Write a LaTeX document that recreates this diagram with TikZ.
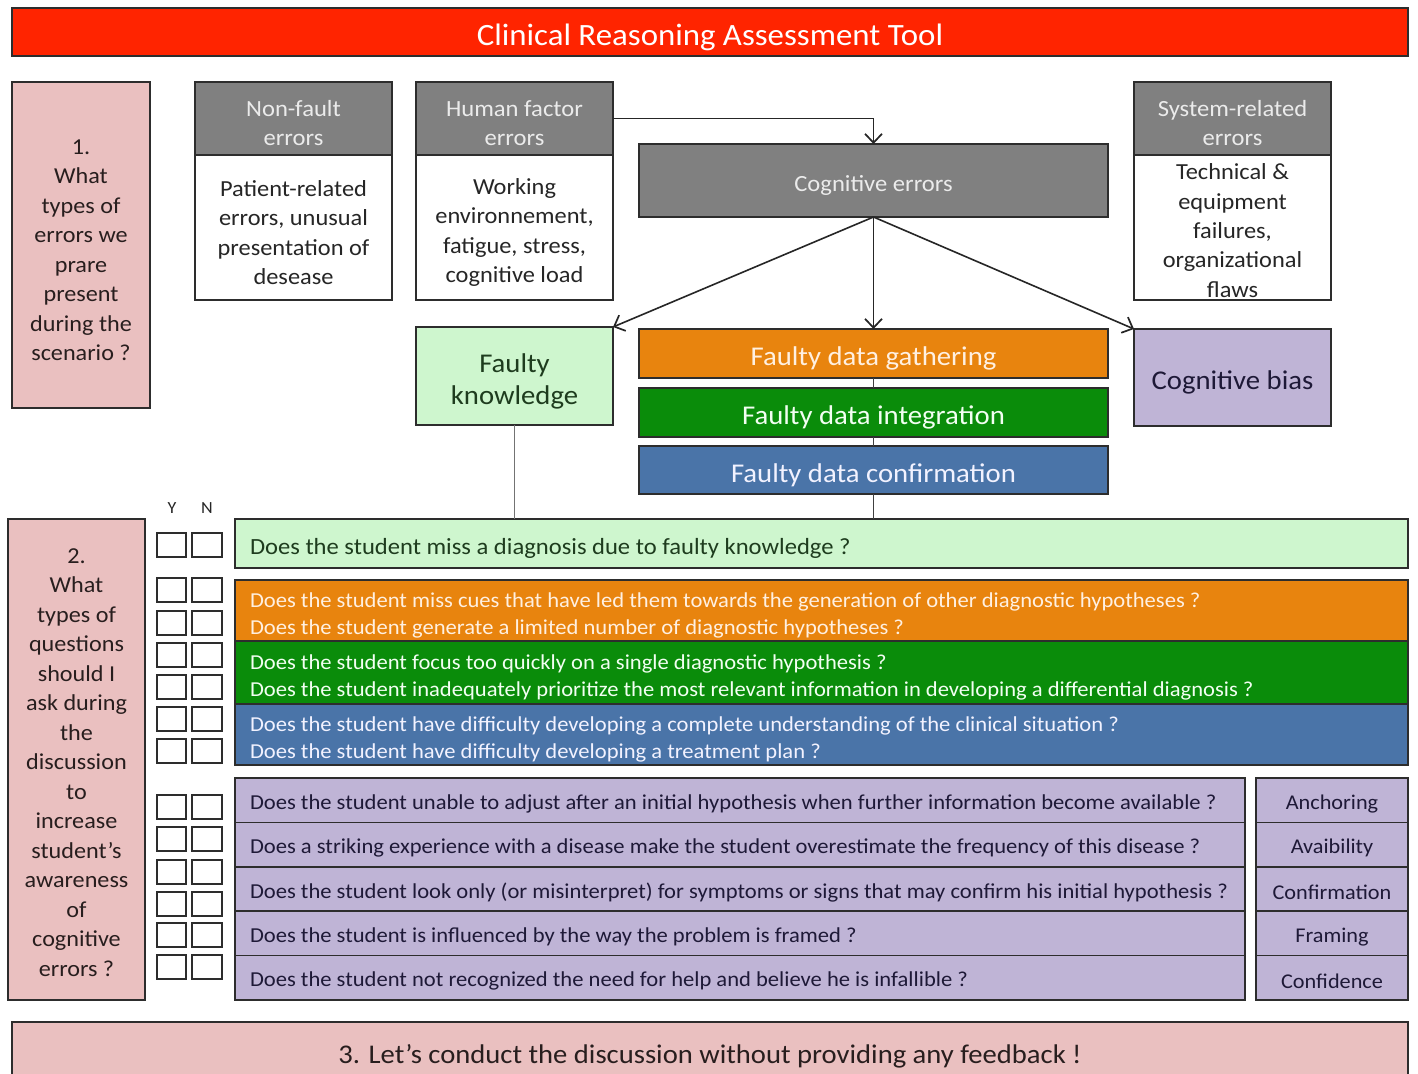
\documentclass[tikz,border=0pt]{standalone}
\usepackage{fontspec}
\setmainfont{Carlito}[FakeStretch=1.06]
\usetikzlibrary{arrows.meta}
\definecolor{titlered}{RGB}{255,36,0}
\definecolor{pinkc}{RGB}{234,192,192}
\definecolor{greyh}{RGB}{128,128,128}
\definecolor{lgreen}{RGB}{206,246,206}
\definecolor{orangec}{RGB}{232,132,14}
\definecolor{greenc}{RGB}{10,140,10}
\definecolor{bluec}{RGB}{74,116,168}
\definecolor{lavc}{RGB}{191,180,214}
\definecolor{darktext}{RGB}{40,30,30}
\definecolor{dgtext}{RGB}{30,60,30}
\definecolor{lavtext}{RGB}{30,25,55}
\definecolor{creamtext}{RGB}{255,240,225}
\definecolor{edgec}{RGB}{45,45,45}
\def\tdrop{5pt}
% box with centred text: #1 style, #2 name, #3 x,y, #4 width, #5 height, #6 text
\newcommand\tbox[6]{%
  \node[#1, minimum width=#4pt, minimum height=#5pt] (#2) at (#3) {};
  \node[#1, draw=none, fill=none, minimum width=0pt, minimum height=0pt, anchor=center] (#2-t) at ([yshift=-\tdrop]#2.center) {#6};
}
% box with left text
\newcommand\qtbox[6]{%
  \node[#1, minimum width=#4pt, minimum height=#5pt] (#2) at (#3) {};
  \node[#1, draw=none, fill=none, minimum width=0pt, minimum height=0pt, anchor=west, align=left] (#2-t) at ([xshift=15pt,yshift=-\tdrop]#2.west) {#6};
}
\tikzset{
  base/.style={draw=edgec, line width=1.6pt, inner sep=0pt, outer sep=0pt, anchor=north west, align=center},
  pinkbox/.style={base, fill=pinkc, text=darktext, font=\fontsize{22.8}{29.5}\selectfont},
  headbox/.style={base, fill=greyh, text=white!92!black, font=\fontsize{23.2}{29}\selectfont},
  bodybox/.style={base, fill=white, text=black!85, font=\fontsize{23}{29.3}\selectfont},
  bigbox/.style={base, font=\fontsize{27.1}{32}\selectfont},
  qbox/.style={base, font=\fontsize{21.3}{27}\selectfont},
  biasbox/.style={base, fill=lavc, text=lavtext, font=\fontsize{21}{24}\selectfont},
  cbox/.style={draw=edgec, line width=1.5pt, fill=white, inner sep=0pt, outer sep=0pt, anchor=north west, minimum height=24pt},
  arr/.style={draw=black!85, line width=1.6pt, -{Straight Barb[length=9pt,width=17pt,line width=1.7pt]}},
  gline/.style={draw=black!55, line width=1.8pt},
  yn/.style={font=\fontsize{17}{20}\selectfont, text=black!85, inner sep=0pt}
}
\begin{document}
\begin{tikzpicture}[x=1pt,y=-1pt]
\clip (0,0) rectangle (1418,1073);
\fill[white] (0,0) rectangle (1418,1073);
% title
\tbox{base, fill=titlered, text=white, font=\fontsize{31}{34}\selectfont}{title}{12,8}{1396}{48}{Clinical Reasoning Assessment Tool}
% section 1
\tbox{pinkbox}{s1}{12,82}{138}{326}{1.\\What\\types of\\errors we\\prare\\present\\during the\\scenario ?}
\tbox{headbox}{nfh}{195,82}{197}{73}{Non-fault\\errors}
\tbox{bodybox}{nfb}{195,155}{197}{145}{Patient-related\\errors, unusual\\presentation of\\desease}
\tbox{headbox}{hfh}{416,82}{197}{73}{Human factor\\errors}
\tbox{bodybox}{hfb}{416,155}{197}{145}{Working\\environnement,\\fatigue, stress,\\cognitive load}
\tbox{headbox}{srh}{1134,82}{197}{73}{System-related\\errors}
{\def\tdrop{3pt}%
\tbox{bodybox}{srb}{1134,155}{197}{145}{Technical \&\\equipment\\failures,\\organizational\\flaws}}
\tbox{headbox}{cog}{639,144}{469}{73}{Cognitive errors}
% second level
\tbox{bigbox, fill=lgreen, text=dgtext}{fk}{416,327}{197}{98}{Faulty\\knowledge}
\tbox{bigbox, fill=orangec, text=creamtext}{fdg}{639,329}{469}{49}{Faulty data gathering}
\tbox{bigbox, fill=greenc, text=white!95!green}{fdi}{639,388}{469}{49}{Faulty data integration}
\tbox{bigbox, fill=bluec, text=white!95!blue}{fdc}{639,446}{469}{48}{Faulty data confirmation}
\tbox{bigbox, fill=lavc, text=lavtext}{cb}{1134,329}{197}{97}{Cognitive bias}
% arrows
\draw[arr] (hfh.east) -| (cog.north);
\draw[arr] (cog.south) -- (fk.north east);
\draw[arr] (cog.south) -- (fdg.north);
\draw[arr] (cog.south) -- (cb.north west);
% section 2
{\def\tdrop{3pt}%
\tbox{pinkbox}{s2}{8,519}{137}{481}{2.\\What\\types of\\questions\\should I\\ask during\\the\\discussion\\to\\increase\\student’s\\awareness\\of\\cognitive\\errors ?}}
\node[yn] (ylab) at (172,508) {Y};
\node[yn] (nlab) at (207,508) {N};
\qtbox{qbox, fill=lgreen, text=dgtext, font=\fontsize{23.2}{27}\selectfont}{q1}{235,519}{1173}{49}{Does the student miss a diagnosis due to faulty knowledge ?}
\qtbox{qbox, fill=orangec, text=creamtext}{q2}{235,580}{1173}{61}{Does the student miss cues that have led them towards the generation of other diagnostic hypotheses ?\\Does the student generate a limited number of diagnostic hypotheses ?}
\qtbox{qbox, fill=greenc, text=white!95!green}{q3}{235,641}{1173}{63}{Does the student focus too quickly on a single diagnostic hypothesis ?\\Does the student inadequately prioritize the most relevant information in developing a differential diagnosis ?}
\qtbox{qbox, fill=bluec, text=white!95!blue}{q4}{235,704}{1173}{61}{Does the student have difficulty developing a complete understanding of the clinical situation ?\\Does the student have difficulty developing a treatment plan ?}
% vertical connectors
\draw[gline] (fk.south) -- (fk.south |- q1.north);
\draw[gline, draw=black!75] (fdg.south) -- (fdi.north);
\draw[gline, draw=black!75] (fdi.south) -- (fdc.north);
\draw[gline, draw=black!75] (fdc.south) -- (fdc.south |- q1.north);
% bias questions
\def\tdrop{3.5pt}
\foreach \i/\t/\b in {0/{Does the student unable to adjust after an initial hypothesis when further information become available ?}/Anchoring,
  1/{Does a striking experience with a disease make the student overestimate the frequency of this disease ?}/Avaibility,
  2/{Does the student look only (or misinterpret) for symptoms or signs that may confirm his initial hypothesis ?}/Confirmation,
  3/{Does the student is influenced by the way the problem is framed ?}/Framing,
  4/{Does the student not recognized the need for help and believe he is infallible ?}/Confidence}{
  \pgfmathsetmacro\yy{778+\i*44.4}
  \qtbox{qbox, fill=lavc, text=lavtext}{bq\i}{235,\yy}{1010}{44.4}{\t}
  \tbox{biasbox}{bl\i}{1256,\yy}{152}{44.4}{\b}
}
% checkboxes
\foreach \yy [count=\k] in {533,578,611,643,675,707,739,795,827,860,892,923,955}{
  \node[cbox, minimum width=29pt] (cy\k) at (157,\yy) {};
  \node[cbox, minimum width=30pt] (cn\k) at (192,\yy) {};
}
% section 3
\def\tdrop{1pt}
\tbox{pinkbox, font=\fontsize{27}{30}\selectfont}{s3}{12,1022}{1396}{66}{3. Let’s conduct the discussion without providing any feedback !}
\end{tikzpicture}
\end{document}
